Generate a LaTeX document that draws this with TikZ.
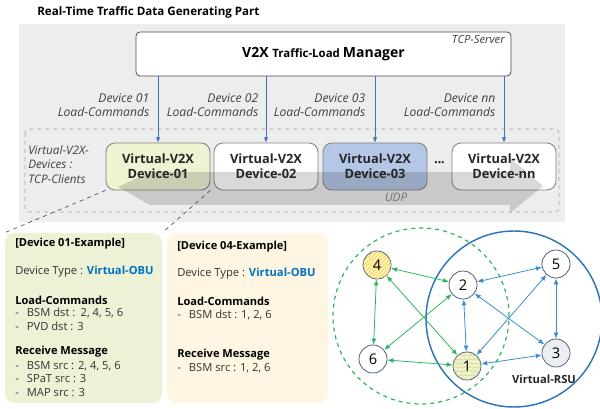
\documentclass[tikz,border=0pt]{standalone}
\usepackage{fontspec}
\setmainfont{Open Sans}
\usetikzlibrary{patterns,arrows.meta}

\definecolor{panelgray}{HTML}{EDEDED}
\definecolor{boxline}{HTML}{7F7F7F}
\definecolor{devgreen}{HTML}{EFF3D2}
\definecolor{devblue}{HTML}{B4C7E7}
\definecolor{exgreen}{HTML}{EDF2D6}
\definecolor{excream}{HTML}{FEF6E2}
\definecolor{obublue}{HTML}{0070C0}
\definecolor{cmdblue}{HTML}{4472C4}
\definecolor{netgreen}{HTML}{2DB55D}
\definecolor{netblue}{HTML}{3A8DD0}
\definecolor{rsublue}{HTML}{2E75B6}
\definecolor{nodeline}{HTML}{4F5F78}
\definecolor{labelgray}{HTML}{404040}
\definecolor{rsufill}{HTML}{EEF2F7}

% zigzag fill used for the OBU node
\pgfdeclarepatternformonly{zigzagfill}{\pgfpointorigin}{\pgfpoint{4pt}{3pt}}{\pgfpoint{4pt}{3pt}}{%
  \pgfsetlinewidth{0.4pt}%
  \pgfpathmoveto{\pgfpoint{0pt}{0.7pt}}%
  \pgfpathlineto{\pgfpoint{2pt}{2.2pt}}%
  \pgfpathlineto{\pgfpoint{4pt}{0.7pt}}%
  \pgfusepath{stroke}}

\tikzset{
  devbox/.style={draw=boxline, line width=0.6pt, rounded corners=6.75pt,
    minimum width=78pt, minimum height=35.25pt, fill=white},
  devtext/.style={font=\bfseries\fontsize{9.6}{11.5}\selectfont, align=center, text=black!85},
  cmdlabel/.style={font=\itshape\fontsize{9.1}{10.6}\selectfont, align=right, anchor=east, text=labelgray},
  cmdarrow/.style={draw=cmdblue, line width=0.6pt, -{Latex[length=4pt,width=3.5pt]}},
  exbox/.style={rounded corners=7pt, minimum width=117.75pt, minimum height=127.5pt},
  extext/.style={anchor=west, font=\fontsize{8.4}{9}\selectfont, text=black!80, inner sep=0pt},
  exhead/.style={anchor=west, font=\bfseries\fontsize{8.3}{9}\selectfont, text=black, inner sep=0pt},
  netnode/.style={circle, draw=nodeline, line width=0.6pt, minimum size=21pt, inner sep=0pt,
    fill=white, font=\fontsize{11}{12}\selectfont},
  gedge/.style={draw=netgreen, line width=0.6pt, {Latex[length=4.5pt,width=3.6pt]}-{Latex[length=4.5pt,width=3.6pt]}},
  bedge/.style={draw=netblue, line width=0.6pt, {Latex[length=4.5pt,width=3.6pt]}-{Latex[length=4.5pt,width=3.6pt]}},
}

\begin{document}
\begin{tikzpicture}[x=0.75pt,y=-0.75pt]
\useasboundingbox (0,0) rectangle (600,409);

% title
\node[anchor=west, font=\bfseries\fontsize{8.7}{10}\selectfont, inner sep=0pt] (title) at (37,12)
  {Real-Time Traffic Data Generating Part};

% grey panel of the generating part
\fill[panelgray] (19,24) rectangle (565,222);

% manager
\node[draw=black!70, line width=0.6pt, rounded corners=3pt, fill=white,
  minimum width=281.25pt, minimum height=33pt] (mgr) at (323.5,54) {};
\node[font=\bfseries, inner sep=0pt] (mgrtext) at (323.5,54)
  {\fontsize{10.5}{12}\selectfont V2X \fontsize{8.6}{12}\selectfont Traffic-Load \fontsize{10.5}{12}\selectfont Manager};
\node[anchor=north east, font=\itshape\fontsize{8.4}{10}\selectfont, text=labelgray, inner sep=0pt] (srv) at (505,35) {TCP-Server};

% device group
\draw[draw=black!35, dashed, line width=0.5pt, rounded corners=3pt, fill=panelgray] (25,129) rectangle (559,212);
\node[anchor=north west, font=\itshape\fontsize{8.8}{11}\selectfont, align=left, text=labelgray, inner sep=0pt]
  (grp) at (28,145) {Virtual-V2X-\\Devices :\\TCP-Clients};

\node[devbox, fill=devgreen] (d01) at (158,166.5) {};
\node[devbox] (d02) at (266,166.5) {};
\node[devbox, fill=devblue] (d03) at (375,166.5) {};
\node[devbox] (dnn) at (504,166.5) {};

% UDP broadcast band
\fill[black, opacity=0.15] (118,187) -- (150,172) -- (510,172) -- (510,158) -- (543,186)
  -- (510,213) -- (510,205) -- (150,205) -- cycle;

\node[devtext] (t01) at (d01) {Virtual-V2X\\Device-01};
\node[devtext] (t02) at (d02) {Virtual-V2X\\Device-02};
\node[devtext] (t03) at (d03) {Virtual-V2X\\Device-03};
\node[devtext] (tnn) at (dnn) {Virtual-V2X\\Device-nn};
\node[font=\bfseries\fontsize{9}{10}\selectfont] (dots) at (439.5,163) {...};
\node[font=\itshape\fontsize{8.8}{10}\selectfont, text=black!55] (udp) at (396,197) {UDP};

% load commands
\draw[cmdarrow] (d01.north |- mgr.south) -- (d01.north);
\draw[cmdarrow] (d02.north |- mgr.south) -- (d02.north);
\draw[cmdarrow] (d03.north |- mgr.south) -- (d03.north);
\draw[cmdarrow] (dnn.north |- mgr.south) -- (dnn.north);
\node[cmdlabel] (c01) at (154,105) {Device 01\\Load-Commands};
\node[cmdlabel] (c02) at (263,105) {Device 02\\Load-Commands};
\node[cmdlabel] (c03) at (370,105) {Device 03\\Load-Commands};
\node[cmdlabel] (cnn) at (500,105) {Device nn\\Load-Commands};

% example cards
\node[exbox, fill=exgreen] (ex1) at (83.5,318) {};
\node[exbox, fill=excream, minimum width=120.75pt] (ex4) at (247.5,318) {};
\draw[dashed, black!70, line width=0.5pt] (d01.south west) -- (ex1.north west);
\draw[dashed, black!70, line width=0.5pt] (d01.south east) -- (ex1.north east);

\node[exhead] (e1a) at (15,244) {[Device 01-Example]};
\node[extext] (e1b) at (15,272) {Device Type : \textcolor{obublue}{\bfseries Virtual-OBU}};
\node[exhead] (e1c) at (15,300) {Load-Commands};
\node[extext] (e1d) at (15,313) {-\hspace{6pt}BSM dst :\hspace{4pt}2, 4, 5, 6};
\node[extext] (e1e) at (15,326) {-\hspace{6pt}PVD dst : 3};
\node[exhead] (e1f) at (15,352) {Receive Message};
\node[extext] (e1g) at (15,366) {-\hspace{6pt}BSM src : 2, 4, 5, 6};
\node[extext] (e1h) at (15,379) {-\hspace{6pt}SPaT src : 3};
\node[extext] (e1i) at (15,393) {-\hspace{6pt}MAP src : 3};

\node[exhead] (e4a) at (177,247) {[Device 04-Example]};
\node[extext] (e4b) at (177,274) {Device Type : \textcolor{obublue}{\bfseries Virtual-OBU}};
\node[exhead] (e4c) at (177,301) {Load-Commands};
\node[extext] (e4d) at (177,315) {-\hspace{6pt}BSM dst : 1, 2, 6};
\node[exhead] (e4e) at (177,355) {Receive Message};
\node[extext] (e4f) at (177,368) {-\hspace{6pt}BSM src : 1, 2, 6};

% network of virtual devices
\draw[netgreen, dashed, line width=0.9pt] (421,316) circle[radius=66pt];
\draw[rsublue, line width=1.1pt] (514,319) circle[radius=66pt];

\node[netnode, fill=yellow!35, postaction={pattern=north east lines, pattern color=orange!55}] (n4) at (377,265) {4};
\node[netnode] (n2) at (463,285) {2};
\node[netnode] (n5) at (556,264) {5};
\node[netnode] (n6) at (373,359) {6};
\node[netnode, fill=devgreen, postaction={pattern=zigzagfill, pattern color=olive!40}] (n1) at (467,366) {1};
\node[netnode, fill=rsufill, postaction={pattern=crosshatch dots, pattern color=black!18}] (n3) at (556,353) {3};
\node[font=\bfseries\fontsize{8.4}{10}\selectfont, text=black!85] (rsu) at (544,379) {Virtual-RSU};

\draw[gedge] (n4) -- (n2);
\draw[gedge] (n4) -- (n6);
\draw[gedge] (n4) -- (n1);
\draw[gedge] (n2) -- (n6);
\draw[gedge] (n6) -- (n1);
\draw[bedge] (n2) -- (n5);
\draw[bedge] (n2) -- (n1);
\draw[bedge] (n2) -- (n3);
\draw[bedge] (n5) -- (n1);
\draw[bedge] (n5) -- (n3);
\draw[bedge] (n1) -- (n3);
\end{tikzpicture}
\end{document}
